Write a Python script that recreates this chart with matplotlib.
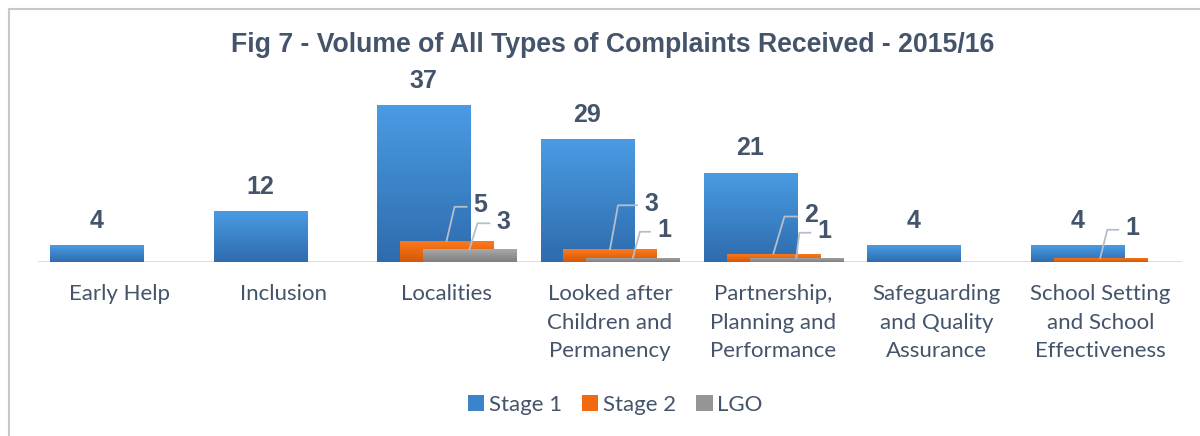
import matplotlib
matplotlib.use('Agg')
import matplotlib.pyplot as plt
import numpy as np
from matplotlib.patches import Patch, Rectangle
from matplotlib.lines import Line2D
from matplotlib.colors import LinearSegmentedColormap

# ---------------- data ----------------
categories = ['Early Help', 'Inclusion', 'Localities',
              'Looked after\nChildren and\nPermanency',
              'Partnership,\nPlanning and\nPerformance',
              'Safeguarding\nand Quality\nAssurance',
              'School Setting\nand School\nEffectiveness']
stage1 = [4, 12, 37, 29, 21, 4, 4]
stage2 = [0, 0, 5, 3, 2, 0, 1]
lgo = [0, 0, 3, 1, 1, 0, 0]
series_names = ['Stage 1', 'Stage 2', 'LGO']
title = 'Fig 7 - Volume of All Types of Complaints Received - 2015/16'

# ---------------- layout / style ----------------
W, H = 1200, 436
AX_L, AX_R, AX_B = 38, 1182, 262
YMAX = 40
PX_PER_Y = 4.24
TXT = '#44546A'
colors_top = ['#4A9BE3', '#FF7A1C', '#A8A8A8']
colors_bot = ['#2E6CAD', '#D25808', '#7F7F7F']
colors_mid = ['#3C84CA', '#F26A10', '#959595']

fig = plt.figure(figsize=(W / 100, H / 100), dpi=100)
ax = fig.add_axes([AX_L / W, (H - AX_B) / H, (AX_R - AX_L) / W, YMAX * PX_PER_Y / H])

# outer frame
fig.patches.append(Rectangle((9 / W, -0.2), 1.2, (H - 9) / H + 0.2, transform=fig.transFigure,
                             fill=False, edgecolor='#C8C8C8', lw=1.5))

x = np.arange(len(categories))
bw = 0.57
offs = [-0.14, 0.0, 0.14]
px_per_x = (AX_R - AX_L) / len(categories)


def grad_bar(bar, c_top, c_bot, z):
    x0, y0 = bar.get_xy()
    w = bar.get_width()
    h = bar.get_height()
    if h <= 0:
        return
    cmap = LinearSegmentedColormap.from_list('g', [c_bot, c_top])
    im = ax.imshow(np.linspace(0, 1, 64).reshape(-1, 1), cmap=cmap,
                   extent=(x0, x0 + w, y0, y0 + h), origin='lower',
                   aspect='auto', zorder=z + 0.1, interpolation='bilinear')
    im.set_clip_path(bar)


all_series = [stage1, stage2, lgo]
for si, vals in enumerate(all_series):
    bars = ax.bar(x + offs[si], vals, bw, color=colors_mid[si], zorder=2 + si, linewidth=0)
    for b in bars:
        grad_bar(b, colors_top[si], colors_bot[si], 2 + si)

ax.set_xlim(-0.5, len(categories) - 0.5)
ax.set_ylim(0, YMAX)
ax.axhline(0, color='#D9D9D9', lw=1.3, zorder=1)
for s in ax.spines.values():
    s.set_visible(False)
ax.set_yticks([])
ax.set_xticks(x)
ax.set_xticklabels(categories, fontsize=16, color=TXT, family='Lato', linespacing=1.52)
ax.tick_params(axis='x', length=0, pad=16)
ax.patch.set_alpha(0)

# stage 1 labels
for xi, v in zip(x, stage1):
    ax.annotate(str(v), (xi + offs[0], v), xytext=(0, 24.5), textcoords='offset pixels',
                ha='center', va='center', fontsize=18, fontweight='bold',
                family='Liberation Sans', color=TXT, zorder=10)

# leader labels for Stage 2 and LGO
rise = {1: [0, 0, 34, 44, 37, 0, 28], 2: [0, 0, 26, 26, 25, 0, 0]}
diag = {1: [0, 0, 8, 8, 11, 0, 7], 2: [0, 0, 8, 7, 3, 0, 0]}
hlen = {1: [0, 0, 12, 19, 13, 0, 11], 2: [0, 0, 12, 10, 11, 0, 0]}
for si in (1, 2):
    vals = all_series[si]
    for i, v in enumerate(vals):
        if v <= 0:
            continue
        cx = x[i] + offs[si]
        r, d, hl = rise[si][i], diag[si][i], hlen[si][i]
        xs = [cx, cx + d / px_per_x, cx + (d + hl) / px_per_x]
        ys = [v, v + r / PX_PER_Y, v + r / PX_PER_Y]
        ax.add_line(Line2D(xs, ys, color='#B4BFCC', lw=1.3, zorder=9))
        ax.text(xs[-1] + 7 / px_per_x, ys[-1] + 1.5 / PX_PER_Y, str(v), ha='left', va='center',
                fontsize=18, fontweight='bold', family='Liberation Sans', color=TXT, zorder=10)

# title
fig.text(613 / W, (H - 45) / H, title, ha='center', va='center', fontsize=19.2,
         fontweight='bold', color=TXT, family='Liberation Sans')

# legend
handles = [Patch(facecolor=c, edgecolor='none') for c in colors_mid]
leg = fig.legend(handles, series_names, loc='center', bbox_to_anchor=(615 / W, (H - 405) / H),
                 ncol=3, frameon=False, prop={'family': 'Lato', 'size': 16},
                 handlelength=0.75, handleheight=0.75, handletextpad=0.2, columnspacing=0.9,
                 labelcolor=TXT)

fig.savefig('out.png', dpi=100)
